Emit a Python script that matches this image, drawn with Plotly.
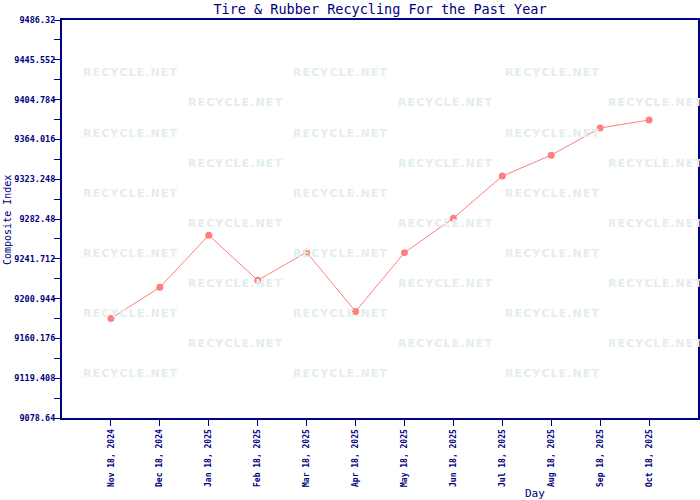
import plotly.graph_objects as go

NAVY = "#000080"
LINE_RED = "#ff7f7f"
WATERMARK = "#e4eded"

days = [
    "Nov 18, 2024", "Dec 18, 2024", "Jan 18, 2025", "Feb 18, 2025",
    "Mar 18, 2025", "Apr 18, 2025", "May 18, 2025", "Jun 18, 2025",
    "Jul 18, 2025", "Aug 18, 2025", "Sep 18, 2025", "Oct 18, 2025",
]
composite_index = [
    9180.6, 9212.5, 9265.9, 9219.7, 9248.4, 9187.8,
    9248.0, 9283.3, 9326.4, 9347.9, 9375.7, 9383.9,
]
y_ticks = [
    9078.64, 9119.408, 9160.176, 9200.944, 9241.712, 9282.48,
    9323.248, 9364.016, 9404.784, 9445.552, 9486.32,
]
y_tick_labels = [
    "9078.64", "9119.408", "9160.176", "9200.944", "9241.712", "9282.48",
    "9323.248", "9364.016", "9404.784", "9445.552", "9486.32",
]

W, H = 700, 500
# plot box on screen: x 62..698, y 20..418
L, T, R, B = 62, 20, W - 698, H - 418
pw, ph = W - L - R, H - T - B


def px_to_paper(sx, sy):
    return (sx - L) / pw, 1 - (sy - T) / ph


fig = go.Figure(
    go.Scatter(
        x=days,
        y=composite_index,
        mode="lines+markers",
        line=dict(color=LINE_RED, width=1),
        marker=dict(color=LINE_RED, size=7, symbol="circle"),
        hovertemplate="%{x}<br>%{y:.3f}<extra></extra>",
    )
)

# tiled watermark
mark = "\u200a".join("RECYCLE.NET")
for row in range(11):
    sy = 73 + 30 * row
    xs = [130, 340, 552] if row % 2 == 0 else [235, 445, 655]
    for sx in xs:
        ax, ay = px_to_paper(sx, sy)
        fig.add_annotation(
            x=ax, y=ay, xref="paper", yref="paper",
            xanchor="center", yanchor="middle",
            text=f"<b>{mark}</b>", showarrow=False,
            font=dict(family="DejaVu Sans", size=11, color=WATERMARK),
        )

ax, ay = px_to_paper(535, 493)
fig.add_annotation(
    x=ax, y=ay, xref="paper", yref="paper",
    xanchor="center", yanchor="middle",
    text="Day", showarrow=False,
    font=dict(family="DejaVu Sans Mono", size=11, color=NAVY),
)
ax, ay = px_to_paper(8, 220)
fig.add_annotation(
    x=ax, y=ay, xref="paper", yref="paper",
    xanchor="center", yanchor="middle",
    text="Composite Index", showarrow=False, textangle=-90,
    font=dict(family="DejaVu Sans Mono", size=10, color=NAVY),
)

fig.update_layout(
    width=W, height=H,
    margin=dict(l=L, r=R, t=T, b=B, autoexpand=False),
    paper_bgcolor="white", plot_bgcolor="white",
    showlegend=False,
    title=dict(
        text="Tire & Rubber Recycling For the Past Year",
        x=380 / W, xanchor="center", y=1 - 9 / H, yanchor="middle",
        font=dict(family="DejaVu Sans Mono", size=13.5, color=NAVY),
    ),
)
fig.update_xaxes(
    type="category", range=[-1, 12], automargin=False,
    showgrid=False, zeroline=False,
    showline=True, linecolor=NAVY, linewidth=2, mirror=True,
    ticks="outside", ticklen=6, tickcolor=NAVY, tickwidth=1,
    tickangle=-90,
    tickfont=dict(family="DejaVu Sans Mono", size=8, color=NAVY, weight="bold"),
)
fig.update_yaxes(
    range=[y_ticks[0], y_ticks[-1]], automargin=False,
    tickvals=y_ticks, ticktext=y_tick_labels,
    showgrid=False, zeroline=False,
    showline=True, linecolor=NAVY, linewidth=2, mirror=True,
    ticks="outside", ticklen=6, tickcolor=NAVY, tickwidth=1,
    ticklabelstandoff=-3,
    minor=dict(ticks="outside", ticklen=6, tickcolor=NAVY, tick0=y_ticks[0], dtick=20.384),
    tickfont=dict(family="DejaVu Sans Mono", size=8.5, color=NAVY, weight="bold"),
)

# drop the default page margin so the figure sits at the window's corner
fig.write_html(
    "out.html",
    config={"displayModeBar": False},
    post_script="document.body.style.margin = '0';",
)
